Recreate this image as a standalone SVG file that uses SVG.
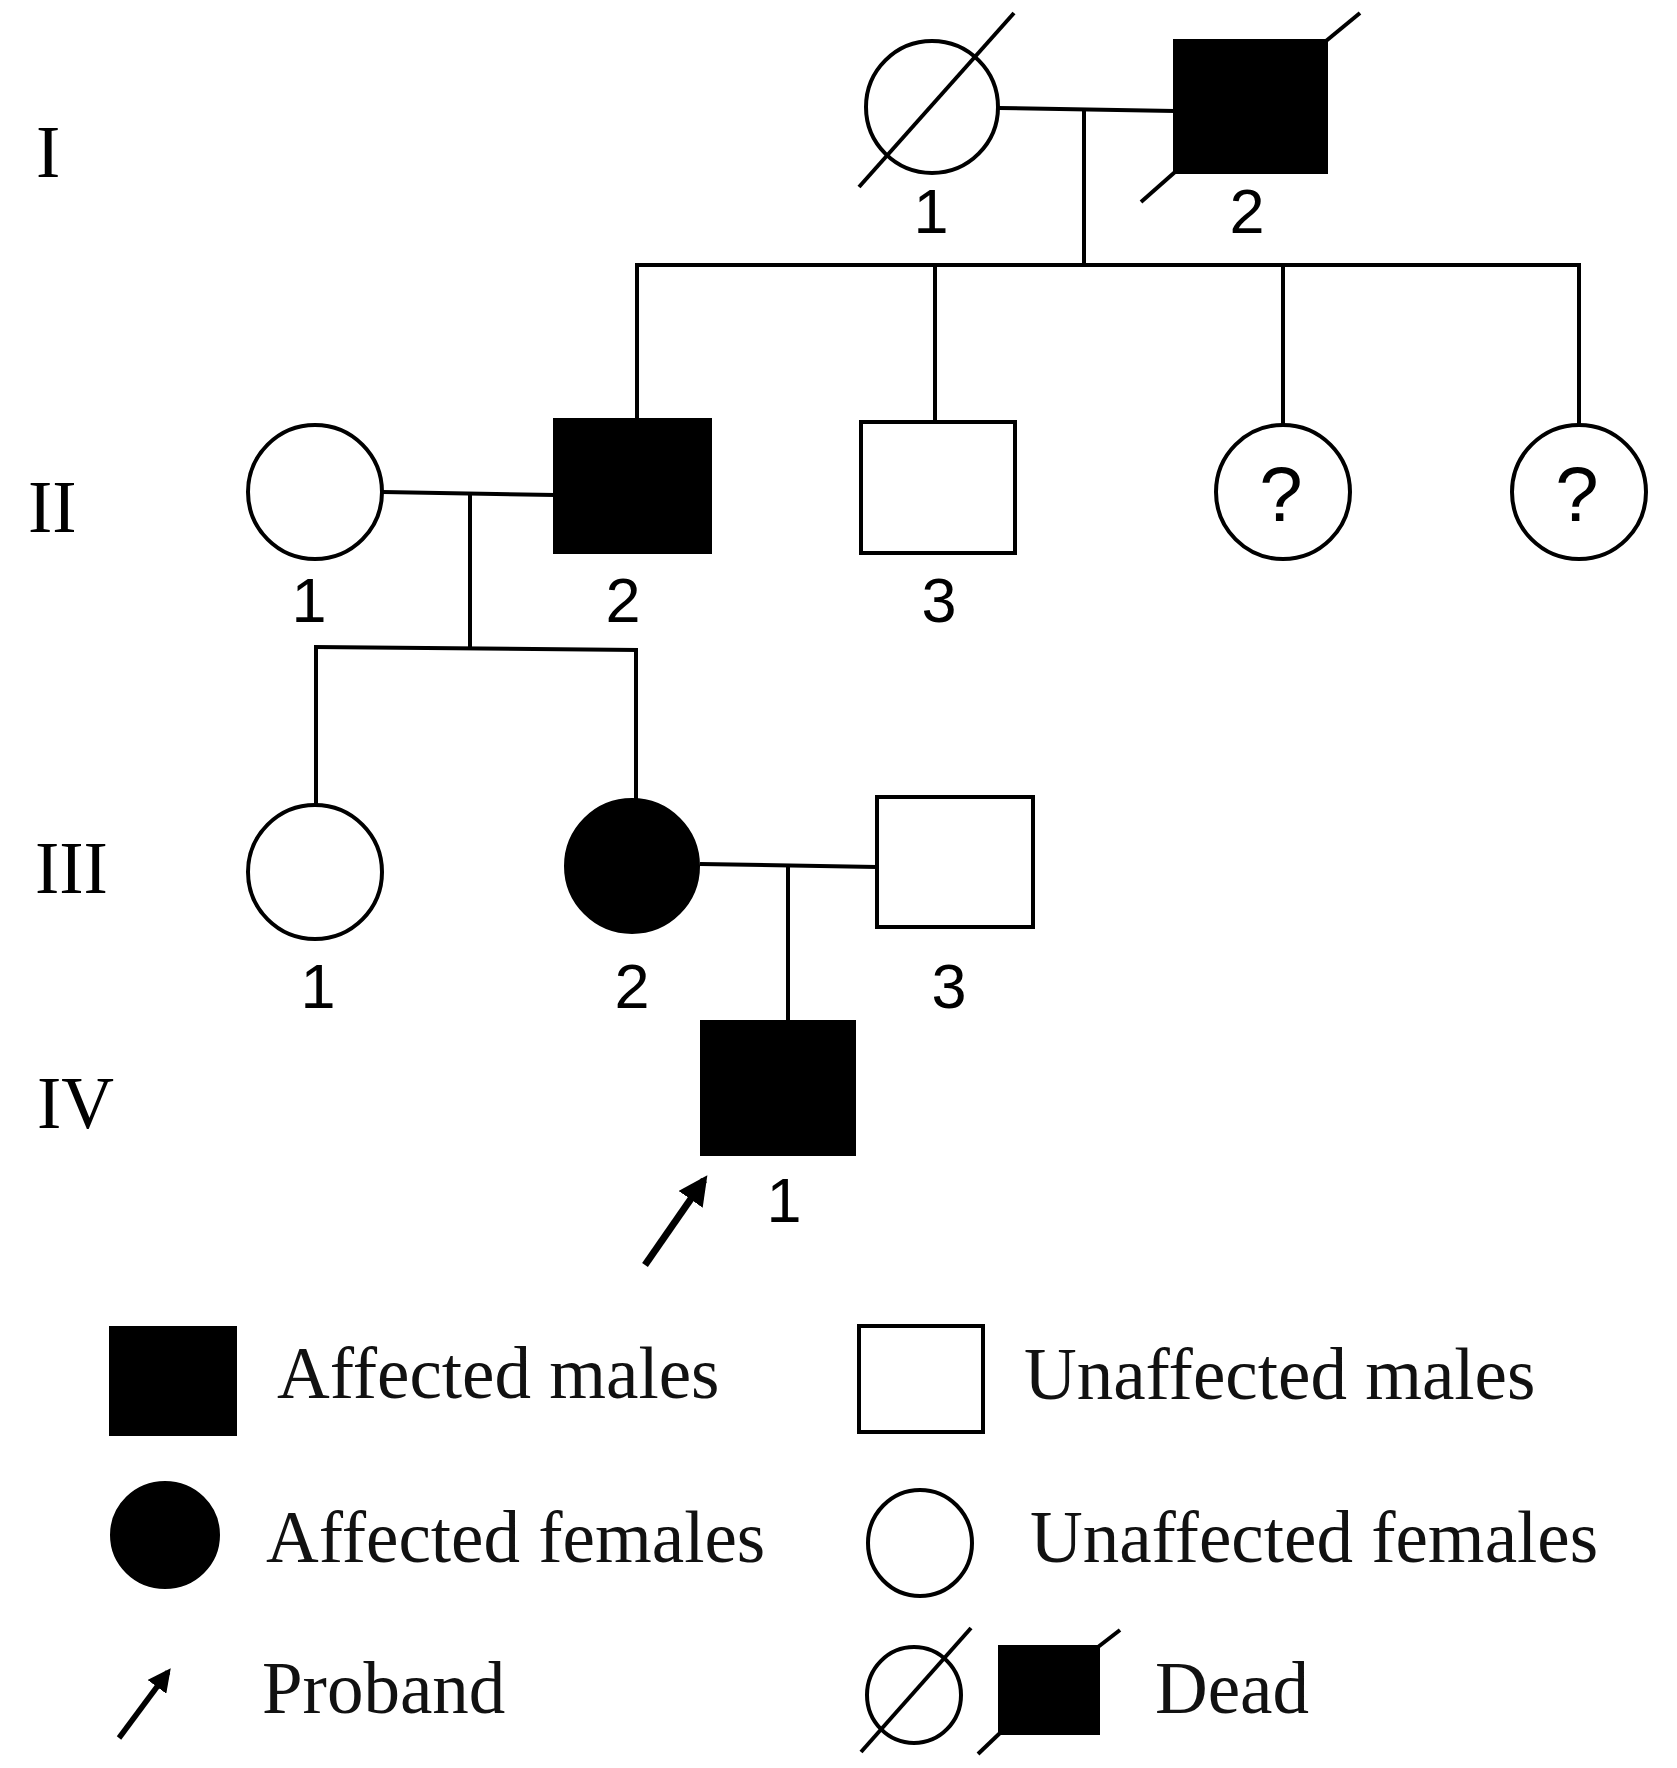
<svg xmlns="http://www.w3.org/2000/svg" width="1677" height="1768" viewBox="0 0 1677 1768">
<defs>
<style>
.sh{stroke:#000;stroke-width:4;fill:#fff}
.af{stroke:#000;stroke-width:4;fill:#000}
.ln{stroke:#000;stroke-width:4;fill:none}
.arw{stroke:#000;fill:none}
.num{font-family:"Liberation Sans",Arial,sans-serif;font-size:63px;fill:#000;text-anchor:middle}
.q{font-family:"Liberation Sans",Arial,sans-serif;font-size:78px;fill:#000;text-anchor:middle}
.gen{font-family:"Liberation Serif","Times New Roman",serif;font-size:73px;fill:#000}
.lg{font-family:"Liberation Serif","Times New Roman",serif;font-size:73px;fill:#111}
</style>
<marker id="ah" viewBox="0 0 10 10" refX="8" refY="5" markerWidth="4.2" markerHeight="4.2" orient="auto" markerUnits="strokeWidth">
<path d="M0,0 L10,5 L0,10 z" fill="#000"/>
</marker>
</defs>
<rect width="1677" height="1768" fill="#fff"/>

<g id="generations">
<text class="gen" x="36" y="177">I</text>
<text class="gen" x="28" y="532">II</text>
<text class="gen" x="35" y="893">III</text>
<text class="gen" x="37" y="1128">IV</text>
</g>

<g id="connectors">
<line class="ln" x1="999" y1="108" x2="1175" y2="111"/>
<line class="ln" x1="1084" y1="109" x2="1084" y2="265"/>
<line class="ln" x1="635" y1="265" x2="1581" y2="265"/>
<line class="ln" x1="637" y1="265" x2="637" y2="420"/>
<line class="ln" x1="935" y1="265" x2="935" y2="422"/>
<line class="ln" x1="1283" y1="265" x2="1283" y2="425"/>
<line class="ln" x1="1579" y1="265" x2="1579" y2="425"/>
<line class="ln" x1="383" y1="492" x2="555" y2="495"/>
<line class="ln" x1="470" y1="494" x2="470" y2="648"/>
<line class="ln" x1="314" y1="647" x2="638" y2="650"/>
<line class="ln" x1="316" y1="648" x2="316" y2="805"/>
<line class="ln" x1="636" y1="650" x2="636" y2="800"/>
<line class="ln" x1="700" y1="864" x2="877" y2="867"/>
<line class="ln" x1="788" y1="866" x2="788" y2="1022"/>
</g>

<g id="I-1">
<circle class="sh" cx="932" cy="107" r="66"/>
<line class="ln" x1="859" y1="187" x2="1014" y2="13"/>
<text class="num" x="931" y="233">1</text>
</g>
<g id="I-2">
<rect class="af" x="1175" y="41" width="151" height="131"/>
<line class="ln" x1="1141" y1="202" x2="1175" y2="172"/>
<line class="ln" x1="1326" y1="41" x2="1360" y2="13"/>
<text class="num" x="1247" y="233">2</text>
</g>

<g id="II-1">
<circle class="sh" cx="315" cy="492" r="67"/>
<text class="num" x="309" y="622">1</text>
</g>
<g id="II-2">
<rect class="af" x="555" y="420" width="155" height="132"/>
<text class="num" x="623" y="622">2</text>
</g>
<g id="II-3">
<rect class="sh" x="861" y="422" width="154" height="131"/>
<text class="num" x="939" y="622">3</text>
</g>
<g id="II-4">
<circle class="sh" cx="1283" cy="492" r="67"/>
<text class="q" x="1281" y="521">?</text>
</g>
<g id="II-5">
<circle class="sh" cx="1579" cy="492" r="67"/>
<text class="q" x="1577" y="521">?</text>
</g>

<g id="III-1">
<circle class="sh" cx="315" cy="872" r="67"/>
<text class="num" x="318" y="1008">1</text>
</g>
<g id="III-2">
<circle class="af" cx="632" cy="866" r="66"/>
<text class="num" x="632" y="1008">2</text>
</g>
<g id="III-3">
<rect class="sh" x="877" y="797" width="156" height="130"/>
<text class="num" x="949" y="1008">3</text>
</g>

<g id="IV-1">
<rect class="af" x="702" y="1022" width="152" height="132"/>
<text class="num" x="784" y="1222">1</text>
<line class="arw" x1="645" y1="1265" x2="704" y2="1180" style="stroke-width:7" marker-end="url(#ah)"/>
</g>

<g id="legend">
<g id="legend-affected-males">
<rect class="af" x="111" y="1328" width="124" height="106"/>
<text class="lg" x="277" y="1398">Affected males</text>
</g>
<g id="legend-affected-females">
<ellipse class="af" cx="165" cy="1535" rx="53" ry="52"/>
<text class="lg" x="266" y="1562">Affected females</text>
</g>
<g id="legend-proband">
<line class="arw" x1="119" y1="1738" x2="168" y2="1672" style="stroke-width:5.5" marker-end="url(#ah)"/>
<text class="lg" x="262" y="1713">Proband</text>
</g>
<g id="legend-unaffected-males">
<rect class="sh" x="859" y="1326" width="124" height="106"/>
<text class="lg" x="1024" y="1399">Unaffected males</text>
</g>
<g id="legend-unaffected-females">
<ellipse class="sh" cx="920" cy="1543" rx="52" ry="53"/>
<text class="lg" x="1030" y="1562">Unaffected females</text>
</g>
<g id="legend-dead">
<ellipse class="sh" cx="914" cy="1695" rx="47" ry="48"/>
<line class="ln" x1="861" y1="1752" x2="971" y2="1628"/>
<rect class="af" x="1000" y="1647" width="98" height="86"/>
<line class="ln" x1="978" y1="1754" x2="1000" y2="1733"/>
<line class="ln" x1="1098" y1="1647" x2="1120" y2="1630"/>
<text class="lg" x="1155" y="1713">Dead</text>
</g>
</g>
</svg>
